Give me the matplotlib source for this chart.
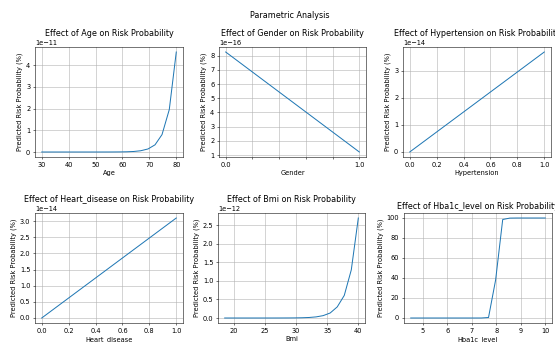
import matplotlib
matplotlib.use("Agg")
import matplotlib.pyplot as plt

# feature names (capitalized as in the chart)
features = ["Age", "Gender", "Hypertension", "Heart_disease", "Bmi", "Hba1c_level"]

# Age sweep
age_x = [30.0, 32.6, 35.3, 37.9, 40.5, 43.2, 45.8, 48.4, 51.1, 53.7,
         56.3, 58.9, 61.6, 64.2, 66.8, 69.5, 72.1, 74.7, 77.4, 80.0]
age_y = [3e-18, 7e-18, 1.6e-17, 4e-17, 9e-17, 2e-16, 5e-16, 1.2e-15, 3e-15, 7e-15,
         1.7e-14, 4.2e-14, 1.0e-13, 2.4e-13, 5.8e-13, 1.4e-12, 3.3e-12, 8.0e-12, 1.95e-11, 4.6e-11]

# binary features
gender_x = [0.0, 1.0]
gender_y = [8.25e-16, 1.22e-16]
hyper_x = [0.0, 1.0]
hyper_y = [0.0, 3.7e-14]
heart_x = [0.0, 1.0]
heart_y = [0.0, 3.1e-14]

# Bmi sweep
bmi_x = [18.5, 19.63, 20.76, 21.89, 23.03, 24.16, 25.29, 26.42, 27.55, 28.68,
         29.82, 30.95, 32.08, 33.21, 34.34, 35.47, 36.61, 37.74, 38.87, 40.0]
bmi_y = [1.5e-18, 3.3e-18, 7e-18, 1.5e-17, 3.3e-17, 7e-17, 1.5e-16, 3.3e-16, 7e-16, 1.5e-15,
         3.1e-15, 6.6e-15, 1.4e-14, 3.0e-14, 6.4e-14, 1.35e-13, 3.0e-13, 6.1e-13, 1.3e-12, 2.7e-12]

# Hba1c sweep
hba_x = [4.5, 4.79, 5.08, 5.37, 5.66, 5.95, 6.24, 6.53, 6.82, 7.11,
         7.39, 7.68, 7.97, 8.26, 8.55, 8.84, 9.13, 9.42, 9.71, 10.0]
hba_y = [0, 0, 0, 0, 0, 0, 0, 0, 0, 0,
         0.01, 0.5, 38.0, 98.5, 99.9, 100, 100, 100, 100, 100]

xs = [age_x, gender_x, hyper_x, heart_x, bmi_x, hba_x]
ys = [age_y, gender_y, hyper_y, heart_y, bmi_y, hba_y]

fig = plt.figure(figsize=(555 / 48, 342 / 48), dpi=48)
W, H = 555.0, 342.0
# axes boxes in pixels: left, top, right, bottom
boxes = [(35, 47, 183, 157), (219, 47, 366, 157), (403, 47, 551, 157),
         (35, 213, 183, 323), (218, 213, 365, 323), (404, 213, 552, 323)]

for i, feat in enumerate(features):
    l, t, r, b = boxes[i]
    ax = fig.add_axes([l / W, 1 - b / H, (r - l) / W, (b - t) / H])
    ax.plot(xs[i], ys[i])
    ax.set_title(f"Effect of {feat} on Risk Probability")
    ax.set_xlabel(feat)
    ax.set_ylabel("Predicted Risk Probability (%)")
    ax.grid(True)
    if feat == "Gender":
        ax.set_xticks([0, 0.2, 0.4, 0.6, 0.8, 1.0])
        ax.set_xticklabels(["0.0", "", "", "", "", "1.0"])

fig.suptitle("Parametric Analysis", x=290 / W, y=1 - 11 / H)
fig.savefig("out.png", dpi=48)
